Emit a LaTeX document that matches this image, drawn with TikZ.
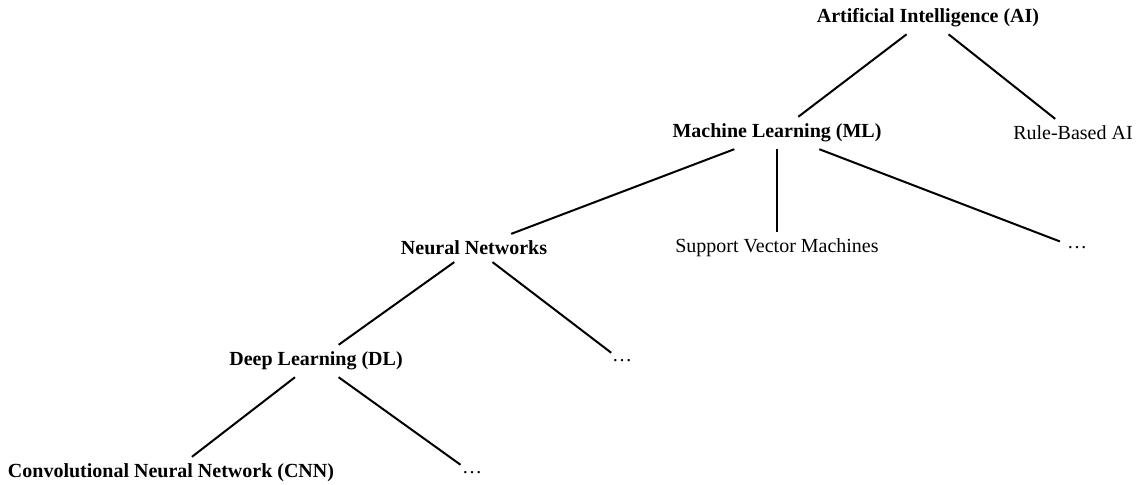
\documentclass[tikz,border=0pt]{standalone}
\usepackage{fontspec}
\setmainfont{Liberation Serif}
\usepackage{tikz}
\tikzstyle{boldLabel} = [shape=rectangle, text=black, font=\bfseries, align=center]
\tikzstyle{plainLabel} = [shape=rectangle, text=black, align=center]
\tikzstyle{branch} = [draw=black, line width=1pt]

\begin{document}
\begin{tikzpicture}[x=0.5pt, y=-0.5pt]
  \useasboundingbox (0,0) rectangle (1136,485);

  \node (AI)  [boldLabel] at (928,18) {Artificial Intelligence (AI)};
  \node (ML)  [boldLabel] at (777,133) {Machine Learning (ML)};
  \node (RB)  [plainLabel] at (1073,133) {Rule-Based AI};

  \node (NN)  [boldLabel] at (474,248) {Neural Networks};
  \node (SVM) [plainLabel] at (777,248) {Support Vector Machines};
  \node (MLx) [plainLabel] at (1077,248) {\dots};

  \node (DL)  [boldLabel] at (316,361) {Deep Learning (DL)};
  \node (NNx) [plainLabel] at (622,361) {\dots};

  \node (CNN) [boldLabel] at (171,473) {Convolutional Neural Network (CNN)};
  \node (DLx) [plainLabel] at (472,473) {\dots};

  \draw [branch] (AI) -- (ML);
  \draw [branch] (AI) -- (RB);
  \draw [branch] (ML) -- (NN);
  \draw [branch] (ML) -- (SVM);
  \draw [branch] (ML) -- (MLx);
  \draw [branch] (NN) -- (DL);
  \draw [branch] (NN) -- (NNx);
  \draw [branch] (DL) -- (CNN);
  \draw [branch] (DL) -- (DLx);

\end{tikzpicture}
\end{document}
